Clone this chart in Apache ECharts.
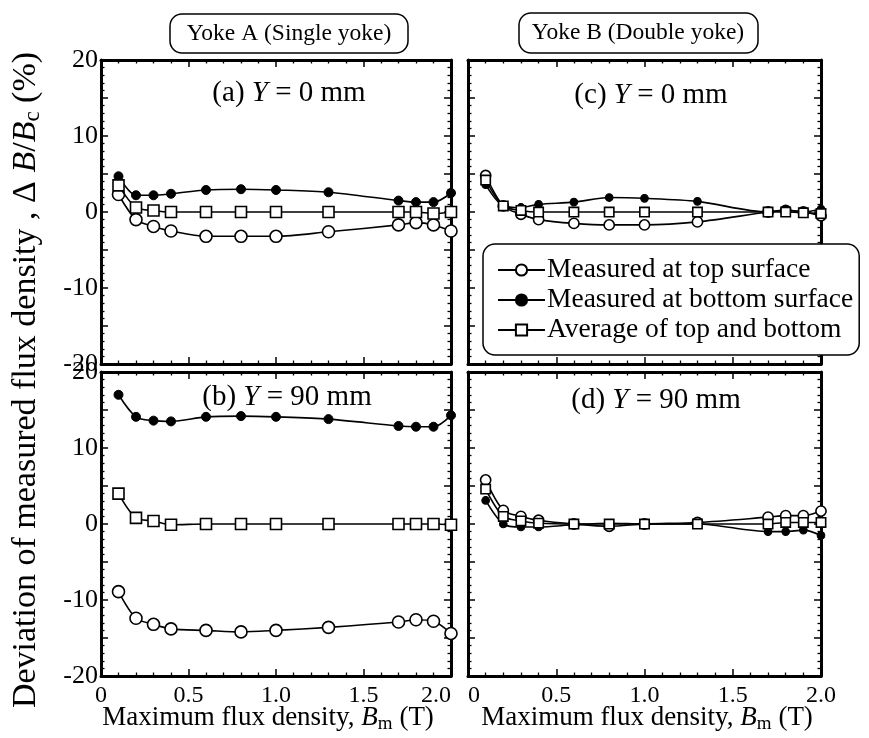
<!DOCTYPE html>
<html><head><meta charset="utf-8">
<script src="https://cdn.jsdelivr.net/npm/echarts@6/dist/echarts.min.js"></script>
<style>html,body{margin:0;padding:0;background:#fff}#c{width:869px;height:738px}</style>
</head><body><div id="c"></div>
<script>
// ---- data ----
const xs = [0.1, 0.2, 0.3, 0.4, 0.6, 0.8, 1.0, 1.3, 1.7, 1.8, 1.9, 2.0];
const seriesNames = ['Measured at top surface', 'Measured at bottom surface', 'Average of top and bottom'];
// (a) Yoke A, Y = 0 mm
const aTop    = [2.3, -1.0, -1.9, -2.5, -3.2, -3.2, -3.2, -2.6, -1.7, -1.4, -1.7, -2.5];
const aBottom = [4.7, 2.2, 2.2, 2.4, 2.9, 3.0, 2.9, 2.6, 1.5, 1.3, 1.3, 2.5];
const aAvg    = [3.5, 0.6, 0.2, 0.0, 0.0, 0.0, 0.0, 0.0, 0.0, 0.0, -0.2, 0.0];
// (b) Yoke A, Y = 90 mm
const bTop    = [-8.9, -12.4, -13.2, -13.8, -14.0, -14.2, -14.0, -13.6, -12.9, -12.6, -12.8, -14.4];
const bBottom = [17.0, 14.1, 13.6, 13.5, 14.1, 14.2, 14.1, 13.8, 12.9, 12.8, 12.8, 14.3];
const bAvg    = [4.0, 0.8, 0.4, -0.1, 0.0, 0.0, 0.0, 0.0, 0.0, 0.0, 0.0, -0.1];
// (c) Yoke B, Y = 0 mm
const cTop    = [4.8, 0.8, -0.3, -1.0, -1.5, -1.7, -1.7, -1.3, 0.0, 0.2, 0.0, -0.5];
const cBottom = [3.6, 0.8, 0.6, 1.0, 1.3, 1.9, 1.8, 1.4, 0.0, 0.3, 0.0, 0.4];
const cAvg    = [4.2, 0.8, 0.2, 0.0, 0.0, 0.0, 0.0, 0.0, 0.0, 0.0, -0.1, -0.2];
// (d) Yoke B, Y = 90 mm
const dTop    = [5.8, 1.8, 1.0, 0.5, 0.0, -0.3, 0.0, 0.2, 0.9, 1.1, 1.1, 1.7];
const dBottom = [3.1, 0.0, -0.4, -0.4, -0.1, 0.1, 0.0, 0.0, -1.0, -1.0, -0.8, -1.5];
const dAvg    = [4.6, 1.0, 0.4, 0.1, 0.0, 0.0, 0.0, 0.0, 0.0, 0.2, 0.2, 0.2];
const yTicks = [-20, -10, 0, 10, 20];
const xTickLabels = ['0', '0.5', '1.0', '1.5', '2.0'];

// ---- layout / style ----
const FONT = '"Liberation Serif","Times New Roman",serif';
const grids = [
  {left: 101, top: 60, width: 350, height: 304},
  {left: 101, top: 372, width: 350, height: 304},
  {left: 468, top: 60, width: 353, height: 304},
  {left: 468, top: 372, width: 353, height: 304}
];
const panels = [
  {top: aTop, bottom: aBottom, avg: aAvg, xLabels: false, yLabels: true, small: false, alignMin: 'center', alignMax: 'center'},
  {top: bTop, bottom: bBottom, avg: bAvg, xLabels: true, yLabels: true, small: false, alignMin: 'center', alignMax: 'right'},
  {top: cTop, bottom: cBottom, avg: cAvg, xLabels: false, yLabels: false, small: true, alignMin: 'center', alignMax: 'center'},
  {top: dTop, bottom: dBottom, avg: dAvg, xLabels: true, yLabels: false, small: true, alignMin: 'left', alignMax: 'center'}
];

function xAx(gi, pos, labels, p) {
  return {
    type: 'value', gridIndex: gi, position: pos, min: 0, max: 2, interval: 0.5,
    axisLine: {show: true, onZero: false, lineStyle: {color: '#000', width: 3}},
    axisTick: {show: true, inside: true, length: 7, lineStyle: {color: '#000', width: 1.5}},
    minorTick: {show: true, splitNumber: 5, length: 3.5, lineStyle: {color: '#000', width: 1.3}},
    splitLine: {show: false},
    axisLabel: {show: labels, margin: 8, color: '#000', fontFamily: FONT, fontSize: 24,
      alignMinLabel: p.alignMin, alignMaxLabel: p.alignMax,
      formatter: v => xTickLabels[Math.round(v / 0.5)] || ''}
  };
}
function yAx(gi, pos, labels) {
  return {
    type: 'value', gridIndex: gi, position: pos, min: -20, max: 20, interval: 5,
    axisLine: {show: true, onZero: false, lineStyle: {color: '#000', width: 3}},
    axisTick: {show: true, inside: true, length: 7, lineStyle: {color: '#000', width: 1.5}},
    minorTick: {show: true, splitNumber: 5, length: 3.5, lineStyle: {color: '#000', width: 1.3}},
    splitLine: {show: false},
    axisLabel: {show: labels, margin: 3, color: '#000', fontFamily: FONT, fontSize: 26,
      formatter: v => yTicks.indexOf(v) >= 0 ? String(v) : ''}
  };
}

const xAxis = [], yAxis = [], series = [];
panels.forEach((p, gi) => {
  xAxis.push(xAx(gi, 'bottom', p.xLabels, p), xAx(gi, 'top', false, p));
  yAxis.push(yAx(gi, 'left', p.yLabels), yAx(gi, 'right', false));
  const s = p.small ? 0.85 : 1;
  const mk = (name, arr, symbol, size, itemStyle, z) => ({
    name, type: 'line', xAxisIndex: gi * 2, yAxisIndex: gi * 2,
    data: xs.map((x, i) => [x, arr[i]]),
    smooth: 0.3, symbol, symbolSize: size * s, showSymbol: true,
    lineStyle: {color: '#000', width: 1.6},
    itemStyle, z, animation: false
  });
  series.push(
    mk(seriesNames[0], p.top, 'circle', 12, {color: '#fff', borderColor: '#000', borderWidth: 1.6}, 3),
    mk(seriesNames[1], p.bottom, 'circle', 9, {color: '#000', borderColor: '#000', borderWidth: 1}, 4),
    mk(seriesNames[2], p.avg, 'rect', 11, {color: '#fff', borderColor: '#000', borderWidth: 1.6}, 5)
  );
});

function txt(x, y, text, size, rich, extra) {
  const r = {};
  Object.keys(rich || {}).forEach(k => { r[k] = Object.assign({fontFamily: FONT, fontSize: size, fill: '#000'}, rich[k]); });
  return Object.assign({
    type: 'text', x, y, z: 100,
    style: {text, fontFamily: FONT, fontSize: size, fill: '#000', align: 'center', verticalAlign: 'middle', rich: r}
  }, extra || {});
}
function titleText(x, y, label, ymm) {
  return txt(x, y, label + ' {i|Y} = ' + ymm + ' mm', 29, {i: {fontStyle: 'italic'}});
}
const graphic = [
  {type: 'rect', shape: {x: 170, y: 14, width: 238, height: 39, r: 12}, style: {fill: '#fff', stroke: '#000', lineWidth: 1.5}, z: 99},
  txt(289, 34, 'Yoke A (Single yoke)', 23.5),
  {type: 'rect', shape: {x: 519, y: 13, width: 239, height: 40, r: 12}, style: {fill: '#fff', stroke: '#000', lineWidth: 1.5}, z: 99},
  txt(638, 33, 'Yoke B (Double yoke)', 23.5),
  titleText(289, 93, '(a)', '0'),
  titleText(287, 397, '(b)', '90'),
  titleText(651, 95, '(c)', '0'),
  titleText(656, 400, '(d)', '90'),
  txt(268, 718, 'Maximum flux density, {i|B}{sub|m} (T)', 27, {i: {fontStyle: 'italic'}, sub: {fontSize: 19, padding: [12, 0, 0, 0]}}),
  txt(647, 718, 'Maximum flux density, {i|B}{sub|m} (T)', 27, {i: {fontStyle: 'italic'}, sub: {fontSize: 19, padding: [12, 0, 0, 0]}}),
  txt(26, 380, 'Deviation of measured flux density , \u0394 {i|B}/{i|B}{sub|c} (%)', 34,
    {i: {fontStyle: 'italic'}, sub: {fontSize: 23, padding: [14, 0, 0, 0]}}, {rotation: Math.PI / 2})
];

const chart = echarts.init(document.getElementById('c'), null, {renderer: 'canvas'});
chart.setOption({
  animation: false,
  backgroundColor: '#fff',
  grid: grids.map(g => Object.assign({containLabel: false}, g)),
  xAxis, yAxis, series, graphic,
  legend: {
    data: seriesNames, orient: 'vertical', left: 483, top: 244,
    padding: [12, 6, 11, 14], itemGap: 2, itemWidth: 47, itemHeight: 14,
    backgroundColor: '#fff', borderColor: '#000', borderWidth: 1.5, borderRadius: 12,
    textStyle: {fontFamily: FONT, fontSize: 27.5, color: '#000', padding: [0, 0, 0, -3]},
    selectedMode: false, z: 50
  }
});
</script>
</body></html>
